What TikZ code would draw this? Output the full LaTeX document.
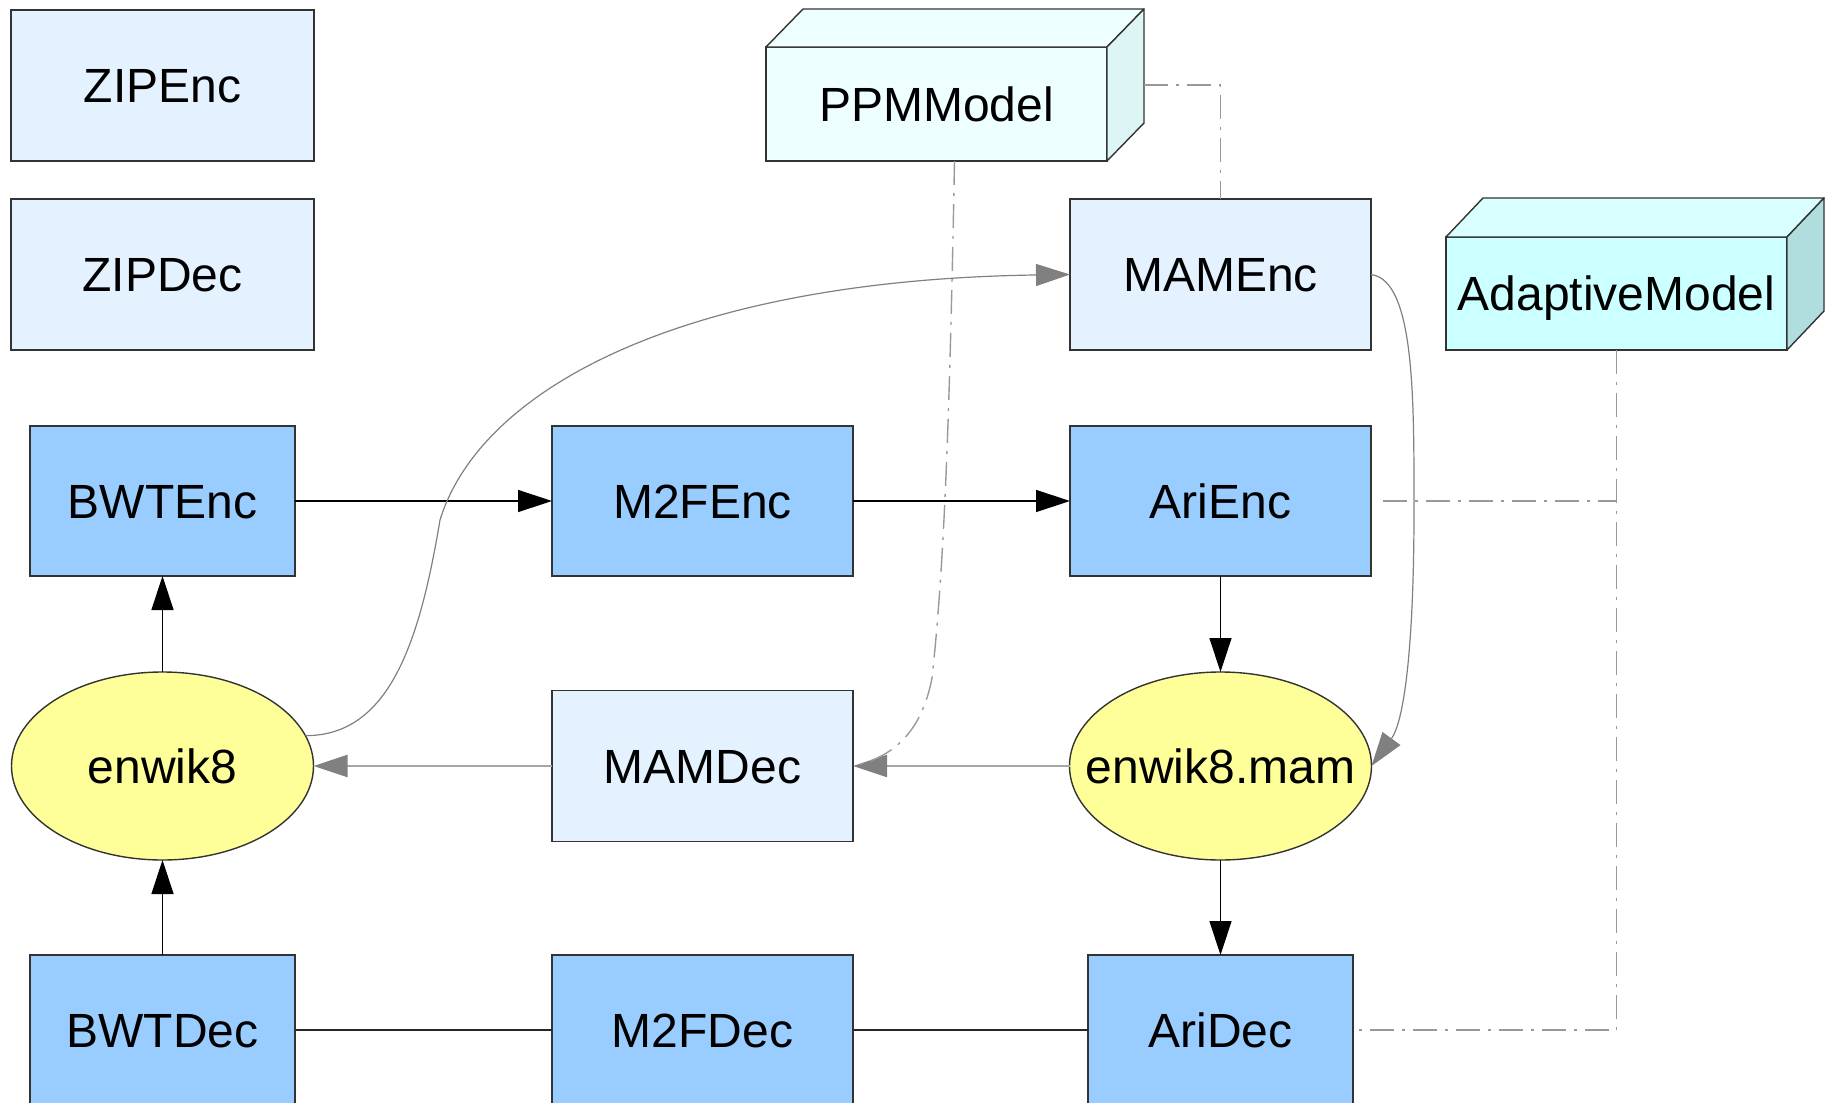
\documentclass[tikz,border=0pt]{standalone}
\usepackage{fontspec}
\setmainfont{Liberation Sans}
\usetikzlibrary{shapes.geometric,arrows.meta,calc}

\definecolor{lightbox}{RGB}{228,242,255}
\definecolor{bluebox}{RGB}{153,204,255}
\definecolor{yellowell}{RGB}{255,255,153}
\definecolor{ppmfront}{RGB}{238,255,255}
\definecolor{ppmside}{RGB}{222,245,245}
\definecolor{adfront}{RGB}{204,255,255}
\definecolor{adtop}{RGB}{218,255,255}
\definecolor{adside}{RGB}{176,221,221}
\definecolor{bordercol}{RGB}{51,51,51}
\definecolor{arrowgray}{RGB}{128,128,128}
\definecolor{linegray}{RGB}{166,166,166}
\definecolor{dashgray}{RGB}{153,153,153}

\begin{document}
\begin{tikzpicture}[x=0.5pt,y=-0.5pt,
  base/.style={draw=bordercol, line width=0.7pt, inner sep=0pt, outer sep=0pt,
    font=\fontsize{24}{28}\selectfont, text height=17.2pt, text depth=0pt},
  lightnode/.style={base, rectangle, fill=lightbox, minimum height=75.5pt},
  bluenode/.style={base, rectangle, fill=bluebox, minimum height=75pt},
  filenode/.style={base, ellipse, fill=yellowell, minimum width=151pt, minimum height=94pt},
  facestyle/.style={draw=bordercol, line width=0.7pt, line join=round},
  tipshape/.style={},
  blackarrow/.style={draw=black, line width=0.7pt, -{Triangle[length=17pt,width=11pt]}},
  blackline/.style={draw=black!85, line width=0.7pt},
  grayarrow/.style={draw=linegray, line width=1.1pt, -{Triangle[length=17pt,width=11pt,color=arrowgray]}},
  curvearrow/.style={draw=arrowgray, line width=0.6pt, -{Triangle[length=17pt,width=11pt]}},
  dashline/.style={draw=dashgray, line width=0.7pt, dash pattern=on 12pt off 4pt on 1.5pt off 4pt}
]
\useasboundingbox (0,0) rectangle (1833,1103);
\clip (0,0) rectangle (1833,1103);

% plain boxes
\node[lightnode, minimum width=151.5pt] (ZIPEnc) at (162.5,85.5) {ZIPEnc};
\node[lightnode, minimum width=151.5pt] (ZIPDec) at (162.5,274.5) {ZIPDec};
\node[lightnode, minimum width=150.5pt] (MAMEnc) at (1220.5,274.5) {MAMEnc};
\node[bluenode, minimum width=132.5pt] (BWTEnc) at (162.5,501) {BWTEnc};
\node[bluenode, minimum width=150.5pt] (M2FEnc) at (702.5,501) {M2FEnc};
\node[bluenode, minimum width=150.5pt] (AriEnc) at (1220.5,501) {AriEnc};
\node[filenode] (enwik) at (162.5,766) {\makebox[0pt]{enwik8}};
\node[lightnode, minimum width=150.5pt] (MAMDec) at (702.5,766) {MAMDec};
\node[filenode] (mam) at (1220.5,766) {\makebox[0pt]{enwik8.mam}};
\node[bluenode, minimum width=132.5pt] (BWTDec) at (162.5,1030) {BWTDec};
\node[bluenode, minimum width=150.5pt] (M2FDec) at (702.5,1030) {M2FDec};
\node[bluenode, minimum width=132.5pt] (AriDec) at (1220.5,1030) {AriDec};

% 3D boxes
\node[base, rectangle, fill=ppmfront, minimum width=170.5pt, minimum height=57pt] (PPM) at (936.5,104) {PPMModel};
\filldraw[facestyle, fill=ppmfront] (PPM.north west) -- ++(37,-38) -- ($(PPM.north east)+(37,-38)$) -- (PPM.north east) -- cycle;
\filldraw[facestyle, fill=ppmside] (PPM.north east) -- ++(37,-38) -- ($(PPM.south east)+(37,-38)$) -- (PPM.south east) -- cycle;

\node[base, rectangle, fill=adfront, minimum width=170.5pt, minimum height=56.5pt] (Adapt) at (1616.5,293.5) {AdaptiveModel};
\filldraw[facestyle, fill=adtop] (Adapt.north west) -- ++(37,-39) -- ($(Adapt.north east)+(37,-39)$) -- (Adapt.north east) -- cycle;
\filldraw[facestyle, fill=adside] (Adapt.north east) -- ++(37,-39) -- ($(Adapt.south east)+(37,-39)$) -- (Adapt.south east) -- cycle;

% black flow
\draw[blackarrow] (BWTEnc) -- (M2FEnc);
\draw[blackarrow] (M2FEnc) -- (AriEnc);
\draw[blackarrow] (AriEnc) -- (mam);
\draw[blackarrow] (mam) -- (AriDec);
\draw[blackarrow] (enwik) -- (BWTEnc);
\draw[blackarrow] (BWTDec) -- (enwik);
\draw[blackline] (BWTDec) -- (M2FDec);
\draw[blackline] (M2FDec) -- (AriDec);

% gray flow
\draw[grayarrow] (mam) -- (MAMDec);
\draw[grayarrow] (MAMDec) -- (enwik);
\draw[curvearrow] (enwik.12) .. controls (390,736) and (420,640) .. (440,520)
   .. controls (480,390) and (680,280) .. (MAMEnc.west);
\draw[curvearrow] (MAMEnc.east) .. controls (1415,280) and (1414,400) .. (1414,510)
   .. controls (1414,640) and (1405,720) .. (mam.east);

% dash-dot dependencies
\draw[dashline] ($(PPM.east)+(37,-19)$) -| (MAMEnc.north);
\draw[dashline] ([xshift=9pt]PPM.south) .. controls (950,400) and (945,560) .. (932,678)
   .. controls (922,730) and (895,757) .. (MAMDec.east);
\draw[dashline] (Adapt.south) |- (AriDec.east);
\draw[dashline] ($(AriEnc.east)+(12,0)$) -- (Adapt.south |- AriEnc.east);
\end{tikzpicture}
\end{document}
